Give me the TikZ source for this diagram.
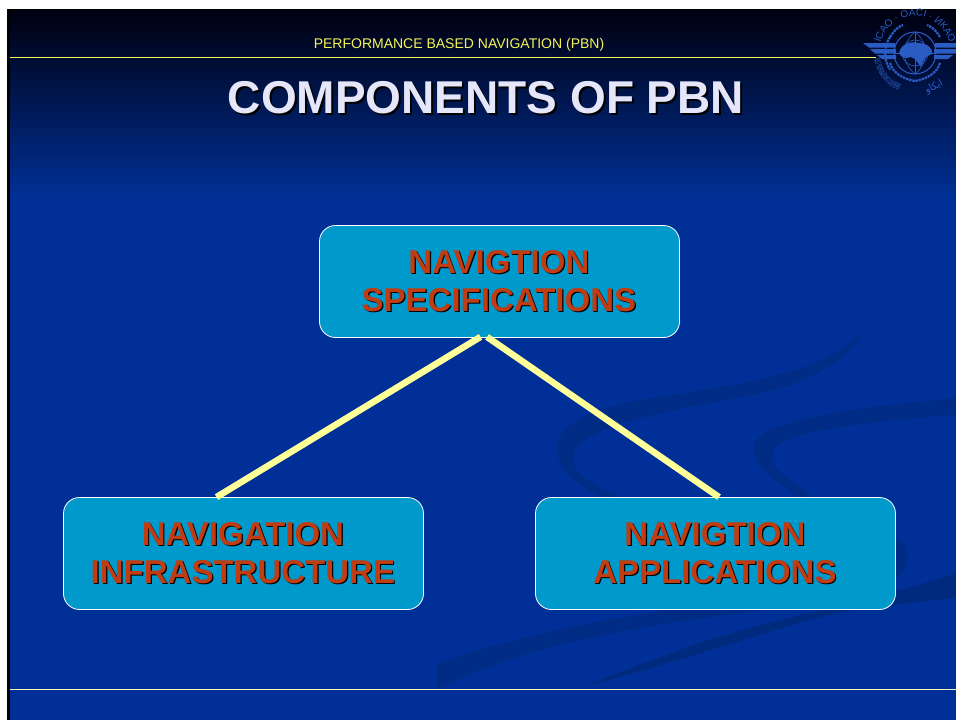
\documentclass[tikz,border=0pt]{standalone}
\usepackage{fontspec}
\setmainfont{Liberation Sans}
\newfontfamily\cjkf{Noto Sans CJK SC}
\newfontfamily\arabf[Script=Arabic]{DejaVu Sans}
\TeXXeTstate=1
\usetikzlibrary{decorations.text,calc}
\definecolor{slideblue}{HTML}{003097}
\definecolor{topdark}{HTML}{00000F}
\definecolor{swoosh}{HTML}{002C85}
\definecolor{swooshb}{HTML}{002A7D}
\definecolor{boxfill}{HTML}{0099CC}
\definecolor{boxtext}{HTML}{C03C12}
\definecolor{titletext}{HTML}{E6E6FA}
\definecolor{linkcol}{HTML}{FFFF99}
\definecolor{rulecol}{HTML}{F4F45A}
\definecolor{emblem}{HTML}{2A5CC4}
\newcommand{\shadowed}[3]{\begin{tikzpicture}[baseline=(m.base)]%
\node[inner sep=0,text=black] at (#3,-#3) {#2};%
\node[inner sep=0,text=#1] (m) at (0,0) {#2};%
\end{tikzpicture}}
\tikzset{
  x=1pt,y=-1pt,
  box/.style={draw=white,line width=.8pt,fill=boxfill,rounded corners=16pt,minimum width=360pt,minimum height=112pt,inner sep=0},
  boxlabel/.style={font=\bfseries\fontsize{33}{38}\selectfont,align=center,inner sep=0},
  link/.style={draw=linkcol,line width=6.5pt},
  rulel/.style={draw=rulecol,line width=.9pt},
  emb/.style={emblem,line width=1pt},
}
\begin{document}
\begin{tikzpicture}
\useasboundingbox (0,0) rectangle (956,720);
\fill[white] (0,0) rectangle (956,720);
\fill[black] (7,9) rectangle (956,720);
\shade[top color=topdark,bottom color=slideblue] (10,10) rectangle (956,200);
\fill[slideblue] (10,199.5) rectangle (956,720);
% background swooshes
\fill[swoosh] (863,330) .. controls (830,370) and (760,382) .. (640,400)
  .. controls (590,410) and (556,425) .. (557,450)
  .. controls (558,475) and (590,495) .. (625,505)
  -- (640,505) .. controls (600,490) and (572,475) .. (573,458)
  .. controls (575,430) and (640,415) .. (753,395)
  .. controls (810,383) and (850,360) .. (863,330) -- cycle;
\fill[swoosh] (956,398) .. controls (880,405) and (800,415) .. (765,432)
  .. controls (745,445) and (748,465) .. (800,498)
  -- (815,498) .. controls (780,475) and (765,462) .. (775,448)
  .. controls (790,430) and (880,420) .. (956,415) -- cycle;
\fill[swoosh] (890,535) .. controls (915,545) and (912,570) .. (890,582) -- cycle;
\fill[swooshb] (956,573) .. controls (880,600) and (760,620) .. (680,650)
  .. controls (640,665) and (610,675) .. (590,685)
  .. controls (650,670) and (740,640) .. (820,617)
  .. controls (870,605) and (920,603) .. (956,597) -- cycle;
\fill[swoosh] (437,664) .. controls (500,640) and (600,620) .. (680,608)
  -- (780,608) .. controls (640,625) and (520,645) .. (437,690) -- cycle;
% header
\draw[rulel] (10,57.5) -- (876,57.5);
\draw[rulel,draw=white!60!rulecol,line width=.8pt] (10,689.5) -- (956,689.5);
\node[text=rulecol,font=\fontsize{14}{16}\selectfont,inner sep=0] (hdr) at (459,44.5) {PERFORMANCE BASED NAVIGATION (PBN)};
\node[inner sep=0,font=\bfseries\fontsize{46}{50}\selectfont] (ttl) at (487,99) {\shadowed{titletext}{COMPONENTS OF PBN}{2pt}};
% emblem
\begin{scope}[shift={(915,53)}]
  \clip (-60,-50) rectangle (41,50);
  \fill[emblem] (-52,-10) -- (-20,-10) -- (-20,-5.5) -- (-46,-5.5) -- cycle;
  \fill[emblem] (-45,-4) -- (-19,-4) -- (-19,0.5) -- (-40,0.5) -- cycle;
  \fill[emblem] (-38,2) -- (-19,2) -- (-19,6) -- (-33,6) -- cycle;
  \fill[emblem] (52,-10) -- (20,-10) -- (20,-5.5) -- (46,-5.5) -- cycle;
  \fill[emblem] (45,-4) -- (19,-4) -- (19,0.5) -- (40,0.5) -- cycle;
  \fill[emblem] (38,2) -- (19,2) -- (19,6) -- (33,6) -- cycle;
  \draw[emb] (0,0) circle (21);
  \draw[emb,line width=.6pt] (0,0) circle (13);
  \draw[emb,line width=.6pt] (-21,0) -- (21,0) (0,-21) -- (0,21);
  \draw[emb,line width=.6pt] (0,-21) .. controls (-14,-10) and (-14,10) .. (0,21);
  \draw[emb,line width=.6pt] (0,-21) .. controls (14,-10) and (14,10) .. (0,21);
  \fill[emblem] (-16,0) .. controls (-14,-10) and (-3,-12) .. (4,-10)
     .. controls (14,-9) and (18,-4) .. (17,1)
     .. controls (12,3) and (8,5) .. (6,14)
     .. controls (2,10) and (2,6) .. (-4,4)
     .. controls (-9,6) and (-14,5) .. (-16,0) -- cycle;
  \draw[emb,line width=2.2pt,dash pattern=on 2.5pt off .8pt] (-25,-16) arc[start angle=-147,end angle=-213,radius=30,x radius=30,y radius=30];
  \draw[emb,line width=2.2pt,dash pattern=on 2.5pt off .8pt] (25,-16) .. controls (20,-24) and (15,-27) .. (12,-28);
  \draw[emb,line width=2.2pt,dash pattern=on 2.5pt off .8pt] (-25,-16) .. controls (-20,-24) and (-15,-27) .. (-12,-28);
  \draw[emb,line width=2.2pt,dash pattern=on 2.5pt off .8pt] (-25,10) .. controls (-22,20) and (-12,26) .. (0,28);
  \draw[emb,line width=2.2pt,dash pattern=on 2.5pt off .8pt] (25,10) .. controls (22,20) and (12,26) .. (0,28);
  \path[decorate,decoration={text along path,text align=center,
     text={|\fontsize{10}{10}\selectfont\color{emblem}|ICAO · OACI · ИКАО}}]
     (-37,5) .. controls (-37,-20) and (-20,-37) .. (0,-37) .. controls (20,-37) and (37,-20) .. (37,5);
  \foreach \c/\a in {国/-62,际/-52,民/-42,航/-32,组/-22,织/-12}
    \node[text=emblem,inner sep=0,font=\cjkf\fontsize{7}{7}\selectfont,rotate=-\a-0] at ({-38*cos(\a)},{-38*sin(\a)}) {\c};
  \node[text=emblem,inner sep=0,font=\fontsize{7}{7}\selectfont] at (1,36) {·};
  \node[text=emblem,inner sep=0,font=\arabf\fontsize{10}{10}\selectfont,rotate=28] at (19,34) {\beginR ايكاو\endR};
\end{scope}
% boxes
\node[box] (spec) at (499.5,281.5) {};
\node[box] (infra) at (243.5,553.5) {};
\node[box] (appl) at (715.5,553.5) {};
\node[boxlabel] at (spec) {\shadowed{boxtext}{NAVIGTION}{1.2pt}\\[0pt]\shadowed{boxtext}{SPECIFICATIONS}{1.2pt}};
\node[boxlabel] at (infra) {\shadowed{boxtext}{NAVIGATION}{1.2pt}\\[0pt]\shadowed{boxtext}{INFRASTRUCTURE}{1.2pt}};
\node[boxlabel] at (appl) {\shadowed{boxtext}{NAVIGTION}{1.2pt}\\[0pt]\shadowed{boxtext}{APPLICATIONS}{1.2pt}};
% connectors
\draw[link] ([xshift=-19pt,yshift=1pt]spec.south) -- ([xshift=-27pt]infra.north);
\draw[link] ([xshift=-12.5pt,yshift=1pt]spec.south) -- ([xshift=3.5pt]appl.north);
\end{tikzpicture}
\end{document}
